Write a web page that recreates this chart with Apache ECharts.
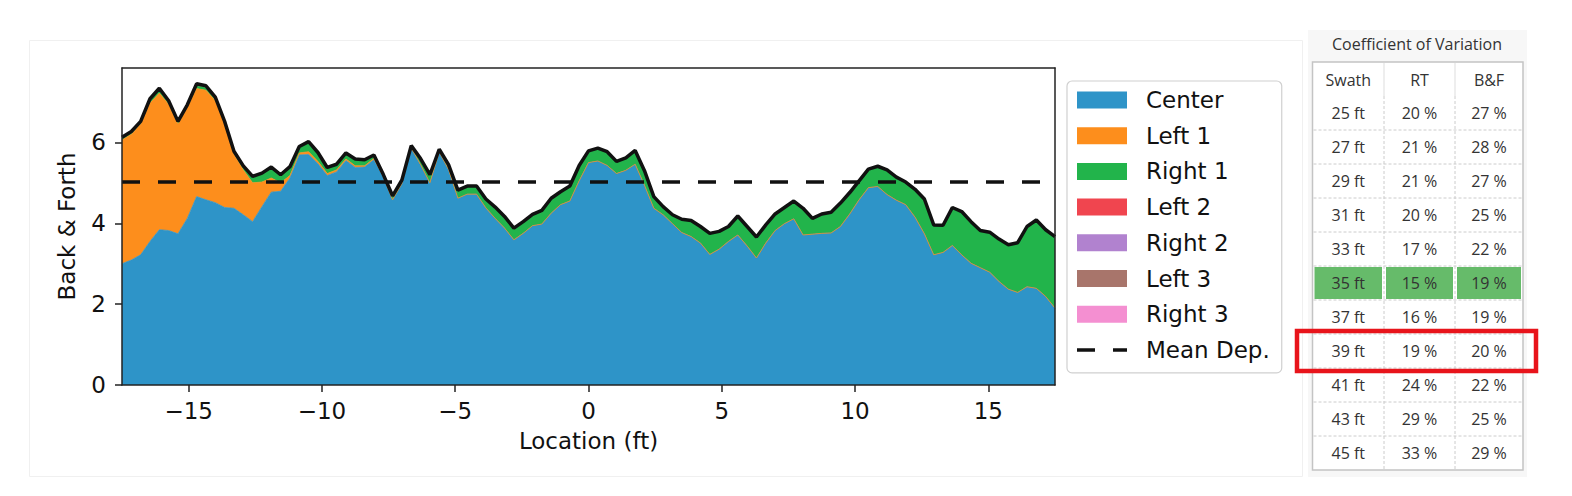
<!DOCTYPE html>
<html>
<head>
<meta charset="utf-8">
<script src="https://cdn.jsdelivr.net/npm/echarts@6/dist/echarts.min.js"></script>
<style>
html, body { margin: 0; padding: 0; background: #fff; }
#chart { width: 1572px; height: 496px; }
</style>
</head>
<body>
<div id="chart"></div>
<script>
// location across the swath (ft)
var loc = [-17.5, -17.15, -16.8, -16.45, -16.1, -15.75, -15.4, -15.05, -14.7, -14.35,
    -14.0, -13.65, -13.3, -12.95, -12.6, -12.25, -11.9, -11.55, -11.2, -10.85,
    -10.5, -10.15, -9.8, -9.45, -9.1, -8.75, -8.4, -8.05, -7.7, -7.35,
    -7.0, -6.65, -6.3, -5.95, -5.6, -5.25, -4.9, -4.55, -4.2, -3.85,
    -3.5, -3.15, -2.8, -2.45, -2.1, -1.75, -1.4, -1.05, -0.7, -0.35,
    0, 0.35, 0.7, 1.05, 1.4, 1.75, 2.1, 2.45, 2.8, 3.15,
    3.5, 3.85, 4.2, 4.55, 4.9, 5.25, 5.6, 5.95, 6.3, 6.65,
    7.0, 7.35, 7.7, 8.05, 8.4, 8.75, 9.1, 9.45, 9.8, 10.15,
    10.5, 10.85, 11.2, 11.55, 11.9, 12.25, 12.6, 12.95, 13.3, 13.65,
    14.0, 14.35, 14.7, 15.05, 15.4, 15.75, 16.1, 16.45, 16.8, 17.15,
    17.5];
var xTicks = [-15, -10, -5, 0, 5, 10, 15];
var yTicks = [0, 2, 4, 6];

var center = [3.00, 3.09, 3.22, 3.55, 3.84, 3.82, 3.74, 4.12, 4.66, 4.58,
    4.51, 4.39, 4.37, 4.21, 4.04, 4.41, 4.77, 4.79, 5.12, 5.69,
    5.70, 5.47, 5.18, 5.27, 5.55, 5.38, 5.39, 5.57, 5.15, 4.58,
    4.98, 5.86, 5.45, 5.00, 5.76, 5.33, 4.62, 4.72, 4.72, 4.38,
    4.12, 3.88, 3.59, 3.75, 3.94, 3.98, 4.25, 4.46, 4.55, 5.05,
    5.50, 5.54, 5.43, 5.23, 5.31, 5.46, 4.94, 4.37, 4.21, 3.99,
    3.77, 3.67, 3.51, 3.23, 3.36, 3.55, 3.71, 3.44, 3.14, 3.51,
    3.82, 3.99, 4.11, 3.71, 3.73, 3.75, 3.76, 3.92, 4.23, 4.58,
    4.88, 4.91, 4.71, 4.57, 4.46, 4.15, 3.74, 3.22, 3.28, 3.45,
    3.22, 3.01, 2.90, 2.79, 2.56, 2.37, 2.29, 2.43, 2.39, 2.19,
    1.90];

var left1 = [3.06, 3.11, 3.23, 3.42, 3.38, 3.12, 2.71, 2.74, 2.67, 2.71,
    2.52, 2.06, 1.33, 1.11, 0.96, 0.61, 0.35, 0.21, 0.06, 0.05,
    0.07, 0.06, 0.05, 0.05, 0.04, 0.04, 0.03, 0.03, 0, 0,
    0, 0, 0, 0, 0, 0, 0, 0, 0, 0,
    0, 0, 0, 0, 0, 0, 0, 0, 0, 0,
    0, 0, 0, 0, 0, 0, 0, 0, 0, 0,
    0, 0, 0, 0, 0, 0, 0, 0, 0, 0,
    0, 0, 0, 0, 0, 0, 0, 0, 0, 0,
    0, 0, 0, 0, 0, 0, 0, 0, 0, 0,
    0, 0, 0, 0, 0, 0, 0, 0, 0, 0,
    0];

var right1 = [0.07, 0.07, 0.07, 0.07, 0.07, 0.07, 0.07, 0.07, 0.07, 0.07,
    0.07, 0.07, 0.08, 0.10, 0.16, 0.22, 0.27, 0.20, 0.22, 0.16,
    0.25, 0.22, 0.15, 0.14, 0.15, 0.17, 0.15, 0.09, 0.06, 0.10,
    0.09, 0.06, 0.15, 0.20, 0.07, 0.12, 0.20, 0.20, 0.20, 0.22,
    0.28, 0.29, 0.29, 0.29, 0.28, 0.34, 0.37, 0.32, 0.37, 0.38,
    0.29, 0.32, 0.34, 0.30, 0.31, 0.34, 0.36, 0.29, 0.20, 0.22,
    0.33, 0.40, 0.41, 0.52, 0.44, 0.37, 0.47, 0.48, 0.52, 0.45,
    0.41, 0.40, 0.44, 0.66, 0.39, 0.48, 0.51, 0.58, 0.53, 0.47,
    0.46, 0.50, 0.61, 0.57, 0.56, 0.69, 0.86, 0.74, 0.67, 0.94,
    1.07, 1.03, 0.92, 0.99, 1.05, 1.10, 1.23, 1.49, 1.69, 1.65,
    1.77];

var left2 = [0, 0, 0, 0.04, 0.05, 0.02, 0, 0, 0.05, 0.04,
    0.02, 0, 0, 0, 0, 0, 0, 0, 0, 0,
    0, 0, 0, 0, 0, 0, 0, 0, 0, 0,
    0, 0, 0, 0, 0, 0, 0, 0, 0, 0,
    0, 0, 0, 0, 0, 0, 0, 0, 0, 0,
    0, 0, 0, 0, 0, 0, 0, 0, 0, 0,
    0, 0, 0, 0, 0, 0, 0, 0, 0, 0,
    0, 0, 0, 0, 0, 0, 0, 0, 0, 0,
    0, 0, 0, 0, 0, 0, 0, 0, 0, 0,
    0, 0, 0, 0, 0, 0, 0, 0, 0, 0,
    0];

var right2 = [0, 0, 0, 0, 0, 0, 0, 0, 0, 0,
    0, 0, 0, 0, 0, 0, 0, 0, 0, 0,
    0, 0, 0, 0, 0, 0, 0, 0, 0, 0,
    0, 0, 0, 0, 0, 0, 0, 0, 0, 0,
    0, 0, 0, 0, 0, 0, 0, 0, 0, 0,
    0, 0, 0, 0, 0, 0, 0, 0, 0, 0,
    0, 0, 0, 0, 0, 0, 0, 0, 0, 0,
    0, 0, 0, 0, 0, 0, 0, 0, 0, 0,
    0, 0, 0, 0, 0, 0, 0, 0, 0, 0,
    0, 0, 0, 0, 0, 0, 0, 0, 0, 0,
    0];
var left3 = right2.slice();
var right3 = right2.slice();

var meanDep = 5.02;

// coefficient of variation table
var swath = [25, 27, 29, 31, 33, 35, 37, 39, 41, 43, 45];
var cvRT = [20, 21, 21, 20, 17, 15, 16, 19, 24, 29, 33];
var cvBF = [27, 28, 27, 25, 22, 19, 19, 20, 22, 25, 29];
var bestRow = 5;   // green
var pickRow = 7;   // red box

var names = ['Center', 'Left 1', 'Right 1', 'Left 2', 'Right 2', 'Left 3', 'Right 3'];
var colors = ['#2e94c8', '#fd8e1c', '#22b44b', '#f0454f', '#b182cf', '#a8756b', '#f48fd1'];
var layers = [center, left1, right1, left2, right2, left3, right3];

var font = 'DejaVu Sans';
var chart = echarts.init(document.getElementById('chart'), null, {renderer: 'svg'});

var series = [];
for (var k = 0; k < layers.length; k++) {
    var isTop = (k == layers.length - 1);
    series.push({
        name: names[k],
        type: 'line',
        stack: 'dep',
        symbol: 'none',
        xAxisIndex: 0,
        yAxisIndex: 0,
        data: layers[k],
        itemStyle: {color: colors[k]},
        areaStyle: {color: colors[k], opacity: 1},
        // outline of the whole stack sits on the last layer
        lineStyle: isTop ? {color: '#111', width: 3.5} : {color: colors[k], width: 0.8},
        z: 2
    });
}
series.push({
    name: 'Mean Dep.',
    type: 'line',
    symbol: 'none',
    xAxisIndex: 1,
    yAxisIndex: 0,
    data: [[loc[0], meanDep], [loc[loc.length - 1], meanDep]],
    itemStyle: {color: '#111'},
    lineStyle: {color: '#111', width: 3.5, type: [18, 18]},
    z: 3
});

var legendData = names.map(function (n, i) {
    return {name: n, icon: 'rect', itemStyle: {color: colors[i], borderWidth: 0}};
});
legendData.push({name: 'Mean Dep.', icon: 'path://M0,0H18V3.5H0Z M36,0H50V3.5H36Z',
    itemStyle: {color: '#111', borderWidth: 0}});

// table drawn with graphic elements
var tx0 = 1312.5, tx1 = 1523, ty0 = 62, rowH = 34, headH = 34;
var colX = [tx0, 1384, 1455, tx1];
var tFont = '16px "Open Sans"';
var g = [];
g.push({type: 'rect', shape: {x: 29.5, y: 40.5, width: 1273, height: 436},
    style: {fill: 'none', stroke: '#f0f0f0', lineWidth: 1}, silent: true});
g.push({type: 'rect', shape: {x: 1308, y: 30, width: 219, height: 447},
    style: {fill: '#f7f7f7'}, silent: true});
g.push({type: 'text', x: 1417, y: 44, style: {text: 'Coefficient of Variation', fill: '#333',
    font: tFont, align: 'center', verticalAlign: 'middle'}});
var tBottom = ty0 + headH + rowH * swath.length;
g.push({type: 'rect', shape: {x: tx0, y: ty0, width: tx1 - tx0, height: tBottom - ty0},
    style: {fill: '#fff', stroke: '#c4c4c4', lineWidth: 1.5}});
// highlighted best row
var by = ty0 + headH + rowH * bestRow;
for (var c = 0; c < 3; c++) {
    g.push({type: 'rect', shape: {x: colX[c] + 2, y: by + 1, width: colX[c + 1] - colX[c] - 4, height: rowH - 2},
        style: {fill: '#66bb6a'}});
}
// grid lines
for (var c = 1; c < 3; c++) {
    g.push({type: 'line', shape: {x1: colX[c], y1: ty0 + 1, x2: colX[c], y2: ty0 + headH},
        style: {stroke: '#dddddd', lineWidth: 1}});
    g.push({type: 'line', shape: {x1: colX[c], y1: ty0 + headH, x2: colX[c], y2: tBottom - 1},
        style: {stroke: '#cccccc', lineWidth: 1, lineDash: [3, 2]}});
}
for (var r = 1; r < swath.length; r++) {
    var ly = ty0 + headH + rowH * r;
    g.push({type: 'line', shape: {x1: tx0 + 1, y1: ly, x2: tx1 - 1, y2: ly},
        style: {stroke: '#cccccc', lineWidth: 1, lineDash: [3, 2]}});
}
var heads = ['Swath', 'RT', 'B&F'];
for (var c = 0; c < 3; c++) {
    g.push({type: 'text', x: (colX[c] + colX[c + 1]) / 2, y: ty0 + headH / 2 + 1,
        style: {text: heads[c], fill: '#333', font: tFont, align: 'center', verticalAlign: 'middle'}});
}
for (var r = 0; r < swath.length; r++) {
    var cy = ty0 + headH + rowH * r + rowH / 2;
    var cells = [swath[r] + ' ft', cvRT[r] + ' %', cvBF[r] + ' %'];
    for (var c = 0; c < 3; c++) {
        g.push({type: 'text', x: (colX[c] + colX[c + 1]) / 2, y: cy,
            style: {text: cells[c], fill: '#333', font: tFont, align: 'center', verticalAlign: 'middle'}});
    }
}
var py = ty0 + headH + rowH * pickRow;
g.push({type: 'rect', shape: {x: 1297, y: py - 3, width: 239, height: rowH + 6},
    style: {fill: 'none', stroke: '#e8141b', lineWidth: 4.5}, z: 100});

var axisCol = '#222';
var option = {
    animation: false,
    backgroundColor: '#fff',
    grid: {left: 122, right: 517, top: 68, bottom: 111},
    legend: {
        orient: 'vertical',
        left: 1067,
        top: 81,
        data: legendData,
        itemWidth: 50,
        itemHeight: 17,
        itemGap: 12.7,
        padding: [7.5, 12, 11.5, 10],
        borderColor: '#d0d0d0',
        borderWidth: 1.2,
        borderRadius: 5,
        backgroundColor: '#fff',
        selectedMode: false,
        textStyle: {fontFamily: font, fontSize: 23, color: '#111', lineHeight: 23, padding: [0, 0, 0, 14]}
    },
    xAxis: [{
        // sample positions, drawn as the top spine
        type: 'category',
        position: 'top',
        data: loc,
        boundaryGap: false,
        axisLine: {onZero: false, lineStyle: {color: axisCol, width: 1.5}},
        axisTick: {show: false}, axisLabel: {show: false}, splitLine: {show: false},
        z: 5
    }, {
        type: 'value',
        position: 'bottom',
        min: -17.5,
        max: 17.5,
        name: 'Location (ft)',
        nameLocation: 'middle',
        nameGap: 44,
        nameTextStyle: {fontFamily: font, fontSize: 23, color: '#111'},
        axisLine: {onZero: false, lineStyle: {color: axisCol, width: 1.5}},
        axisTick: {length: 7, lineStyle: {color: axisCol, width: 1.5}, customValues: xTicks},
        axisLabel: {fontFamily: font, fontSize: 23, color: '#111', margin: 14,
            customValues: xTicks,
            formatter: function (v) { return String(v).replace('-', '\u2212'); }},
        splitLine: {show: false},
        z: 5
    }],
    yAxis: [{
        type: 'value',
        min: 0,
        max: 7.84,
        name: 'Back & Forth',
        nameLocation: 'middle',
        nameGap: 44,
        nameTextStyle: {fontFamily: font, fontSize: 23, color: '#111'},
        axisLine: {show: true, onZero: false, lineStyle: {color: axisCol, width: 1.5}},
        axisTick: {show: true, length: 7, lineStyle: {color: axisCol, width: 1.5}, customValues: yTicks},
        axisLabel: {fontFamily: font, fontSize: 23, color: '#111', margin: 16, customValues: yTicks},
        splitLine: {show: false},
        z: 5
    }, {
        type: 'value', position: 'right', min: 0, max: 7.84,
        axisLine: {show: true, onZero: false, lineStyle: {color: axisCol, width: 1.5}},
        axisTick: {show: false}, axisLabel: {show: false}, splitLine: {show: false}, z: 5
    }],
    series: series,
    graphic: g
};
chart.setOption(option);
</script>
</body>
</html>
